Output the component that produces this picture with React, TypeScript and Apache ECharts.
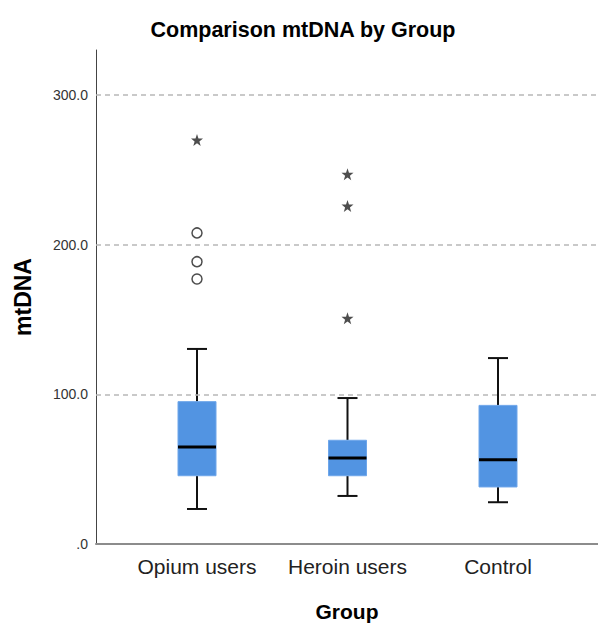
import React, { useEffect, useRef } from "react";
import * as echarts from "echarts";

const categories = ["Opium users", "Heroin users", "Control"];
// [min whisker, Q1, median, Q3, max whisker]
const boxOpium = [23.4, 45.6, 64.8, 95.1, 130.3];
const boxHeroin = [32.1, 45.6, 57.4, 69.3, 97.5];
const boxControl = [27.9, 38.1, 56.3, 92.6, 124.2];
const opiumOutliers = [207.8, 188.6, 177.0];
const opiumExtremes = [269.9];
const heroinExtremes = [247.0, 225.8, 150.8];
const gridLines = [100, 200, 300];
const yMax = 330;

const FONT = "'Liberation Sans', Arial, sans-serif";
const STAR =
  "path://M0,-10 L2.35,-3.24 L9.51,-3.09 L3.8,1.24 L5.88,8.09 L0,4 L-5.88,8.09 L-3.8,1.24 L-9.51,-3.09 L-2.35,-3.24 Z";

export default function App() {
  const ref = useRef<HTMLDivElement>(null);
  useEffect(() => {
    if (!ref.current) return;
    const chart = echarts.init(ref.current, null, { renderer: "svg" });
    const boxes = [boxOpium, boxHeroin, boxControl].map((b, i) => [i, ...b]);
    const circles: number[][] = opiumOutliers.map((v) => [0, v]);
    const stars: number[][] = [
      ...opiumExtremes.map((v) => [0, v]),
      ...heroinExtremes.map((v) => [1, v]),
    ];
    const option: any = {
      animation: false,
      backgroundColor: "#ffffff",
      title: {
        text: "Comparison mtDNA by Group",
        left: 298,
        top: 14,
        textAlign: "center",
        textStyle: { fontFamily: FONT, fontSize: 21.5, fontWeight: "bold", color: "#000" },
      },
      grid: [
        { left: 96, right: 0, top: 50, bottom: 79, outerBoundsMode: "none", containLabel: false },
        { left: 121.75, right: 24.75, top: 50, bottom: 79, outerBoundsMode: "none", containLabel: false },
      ],
      xAxis: [
        {
          gridIndex: 0,
          type: "value",
          min: 0,
          max: 1,
          axisLine: { show: true, lineStyle: { color: "#8c8c8c", width: 2 } },
          axisTick: { show: false },
          axisLabel: { show: false },
          splitLine: { show: false },
          name: "Group",
          nameLocation: "middle",
          nameGap: 57,
          nameTextStyle: { fontFamily: FONT, fontSize: 21, fontWeight: "bold", color: "#000" },
        },
        {
          gridIndex: 1,
          type: "category",
          data: categories,
          axisLine: { show: false },
          axisTick: { show: false },
          axisLabel: {
            interval: 0,
            hideOverlap: false,
            fontFamily: FONT,
            fontSize: 21,
            color: "#222",
            margin: 12,
          },
          splitLine: { show: false },
        },
      ],
      yAxis: [
        {
          gridIndex: 0,
          type: "value",
          min: 0,
          max: yMax,
          interval: 100,
          axisLine: { show: true, lineStyle: { color: "#444", width: 1 } },
          axisTick: { show: false },
          axisLabel: {
            showMaxLabel: false,
            fontFamily: FONT,
            fontSize: 14,
            color: "#333",
            margin: 8,
            formatter: (v: number) => (v === 0 ? ".0" : v.toFixed(1)),
          },
          splitLine: { show: false },
          name: "mtDNA",
          nameLocation: "middle",
          nameRotate: 90,
          nameGap: 62,
          nameTextStyle: { fontFamily: FONT, fontSize: 23, fontWeight: "bold", color: "#000" },
        },
        {
          gridIndex: 1,
          type: "value",
          min: 0,
          max: yMax,
          show: false,
        },
      ],
      series: [
        {
          type: "scatter",
          xAxisIndex: 0,
          yAxisIndex: 0,
          data: [],
          silent: true,
          markLine: {
            silent: true,
            symbol: "none",
            label: { show: false },
            lineStyle: { color: "#b8b8b8", type: [5, 4], width: 1.5 },
            data: gridLines.map((v) => ({ yAxis: v })),
          },
        },
        {
          type: "custom",
          xAxisIndex: 1,
          yAxisIndex: 1,
          data: boxes,
          renderItem: (params: any, api: any) => {
            const x = api.value(0);
            const lo = api.coord([x, api.value(1)]);
            const q1 = api.coord([x, api.value(2)]);
            const med = api.coord([x, api.value(3)]);
            const q3 = api.coord([x, api.value(4)]);
            const hi = api.coord([x, api.value(5)]);
            const cx = lo[0];
            const bw = 38;
            const cw = 20;
            const lineStyle = { stroke: "#111", lineWidth: 2 };
            return {
              type: "group",
              children: [
                { type: "line", shape: { x1: cx, y1: q3[1], x2: cx, y2: hi[1] }, style: lineStyle },
                { type: "line", shape: { x1: cx, y1: q1[1], x2: cx, y2: lo[1] }, style: lineStyle },
                { type: "line", shape: { x1: cx - cw / 2, y1: hi[1], x2: cx + cw / 2, y2: hi[1] }, style: lineStyle },
                { type: "line", shape: { x1: cx - cw / 2, y1: lo[1], x2: cx + cw / 2, y2: lo[1] }, style: lineStyle },
                {
                  type: "rect",
                  shape: { x: cx - bw / 2, y: q3[1], width: bw, height: q1[1] - q3[1] },
                  style: { fill: "#5294e2", stroke: "#6ea6ea", lineWidth: 1 },
                },
                {
                  type: "line",
                  shape: { x1: cx - bw / 2, y1: med[1], x2: cx + bw / 2, y2: med[1] },
                  style: { stroke: "#000", lineWidth: 3 },
                },
              ],
            };
          },
        },
        {
          type: "scatter",
          xAxisIndex: 1,
          yAxisIndex: 1,
          data: circles,
          symbol: "circle",
          symbolSize: 10,
          itemStyle: { color: "#fff", borderColor: "#222", borderWidth: 1.5 },
        },
        {
          type: "scatter",
          xAxisIndex: 1,
          yAxisIndex: 1,
          data: stars,
          symbol: STAR,
          symbolSize: [12, 12],
          itemStyle: { color: "#222" },
        },
      ],
    };
    chart.setOption(option);
    return () => chart.dispose();
  }, []);
  return (
    <div
      ref={ref}
      style={{ position: "fixed", left: 0, top: 0, width: 598, height: 623 }}
    />
  );
}
